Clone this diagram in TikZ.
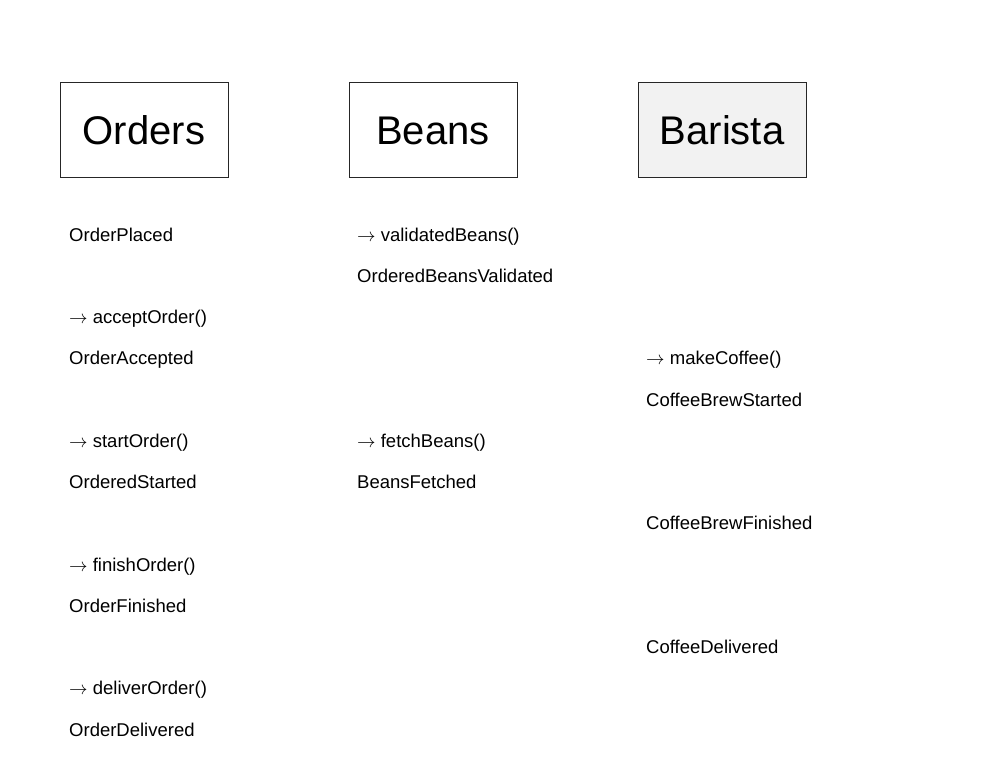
\documentclass[tikz,border=0pt]{standalone}
\usepackage{fix-cm}
\usepackage{fontspec}
\setmainfont{Liberation Sans}
\newcommand{\cmdarrow}{$\rightarrow$}
\usetikzlibrary{positioning}

\begin{document}
\begin{tikzpicture}[x=1pt, y=-1pt]
        \tikzset{
                basic/.style   = {inner sep=0pt, font=\fontsize{18.5}{22}\selectfont},
                context/.style = {draw=black!85, line width=1pt, minimum width=168pt,
                                minimum height=94pt, text height=29pt, text depth=0pt,
                                font=\fontsize{40}{48}\selectfont},
                event/.style   = {basic, anchor=base west}
        }
        \useasboundingbox (0,0) rectangle (983,784);

        % bounded contexts, one box per column
        \node[context] (orders) at (144,130) {Orders};
        \node[context] (beans) at (433,130) {Beans};
        \node[context, fill=black!5] (barista) at (722,130) {Barista};

        % Orders column
        \foreach \r/\txt/\name in {0/OrderPlaced/o0, 2/{\cmdarrow{} acceptOrder()}/o2,
                3/OrderAccepted/o3, 5/{\cmdarrow{} startOrder()}/o5, 6/OrderedStarted/o6,
                8/{\cmdarrow{} finishOrder()}/o8, 9/OrderFinished/o9,
                11/{\cmdarrow{} deliverOrder()}/o11, 12/OrderDelivered/o12}
        \node[event] (\name) at (69, {241+41.25*\r}) {\txt};

        % Beans column
        \foreach \r/\txt/\name in {0/{\cmdarrow{} validatedBeans()}/b0, 1/OrderedBeansValidated/b1,
                5/{\cmdarrow{} fetchBeans()}/b5, 6/BeansFetched/b6}
        \node[event] (\name) at (357, {241+41.25*\r}) {\txt};

        % Barista column
        \foreach \r/\txt/\name in {3/{\cmdarrow{} makeCoffee()}/c3, 4/CoffeeBrewStarted/c4,
                7/CoffeeBrewFinished/c7, 10/CoffeeDelivered/c10}
        \node[event] (\name) at (646, {241+41.25*\r}) {\txt};

\end{tikzpicture}
\end{document}
